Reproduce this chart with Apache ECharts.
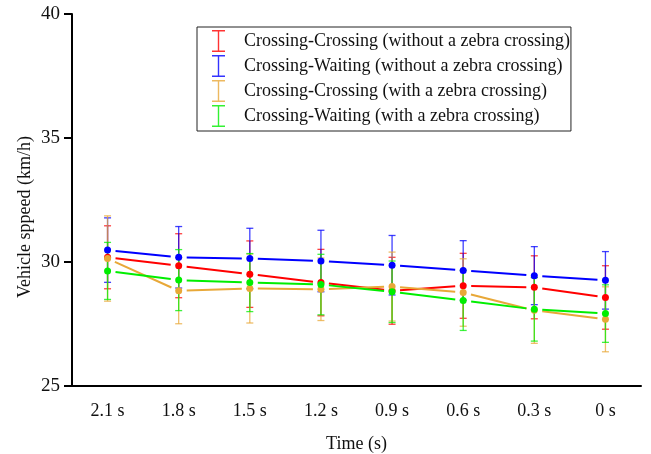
<!DOCTYPE html>
<html>
<head>
<meta charset="utf-8">
<script src="https://cdn.jsdelivr.net/npm/echarts@6/dist/echarts.min.js"></script>
<style>
  html, body { margin: 0; padding: 0; background: #fff; }
  #chart { width: 651px; height: 454px; }
</style>
</head>
<body>
<div id="chart"></div>
<script>
// Time before the vehicle reaches the crossing
const categories = ['2.1 s', '1.8 s', '1.5 s', '1.2 s', '0.9 s', '0.6 s', '0.3 s', '0 s'];
const yTicks = [25, 30, 35, 40];

// Mean vehicle speed (km/h) and standard deviation for each scenario
const ccNoZebra = [30.19, 29.85, 29.51, 29.17, 28.84, 29.04, 28.98, 28.57];
const ccNoZebraSd = [1.27, 1.29, 1.34, 1.34, 1.35, 1.31, 1.27, 1.28];
const cwNoZebra = [30.48, 30.19, 30.14, 30.04, 29.87, 29.66, 29.45, 29.26];
const cwNoZebraSd = [1.30, 1.24, 1.22, 1.24, 1.20, 1.20, 1.17, 1.16];
const ccZebra = [30.14, 28.84, 28.93, 28.90, 29.01, 28.77, 28.05, 27.69];
const ccZebraSd = [1.72, 1.33, 1.39, 1.26, 1.39, 1.36, 1.33, 1.31];
const cwZebra = [29.64, 29.27, 29.17, 29.09, 28.80, 28.45, 28.09, 27.92];
const cwZebraSd = [1.15, 1.23, 1.17, 1.22, 1.24, 1.21, 1.28, 1.16];

const groups = [
  { name: 'Crossing-Crossing (without a zebra crossing)', mean: ccNoZebra, sd: ccNoZebraSd, color: '#ff0000' },
  { name: 'Crossing-Waiting (without a zebra crossing)', mean: cwNoZebra, sd: cwNoZebraSd, color: '#0000ff' },
  { name: 'Crossing-Crossing (with a zebra crossing)', mean: ccZebra, sd: ccZebraSd, color: '#e8a838' },
  { name: 'Crossing-Waiting (with a zebra crossing)', mean: cwZebra, sd: cwZebraSd, color: '#00ee00' }
];

const FONT = 'Liberation Serif';
const SYMBOL_GAP = 8;   // px left open between a line and its markers
const CAP = 3.5;        // half width of the error bar caps

const errorBarIcon = 'path://M0,0H13V1.4H7.2V20.6H13V22H0V20.6H5.8V1.4H0Z';

function renderSegment(params, api) {
  const p0 = api.coord([api.value(0), api.value(1)]);
  const p1 = api.coord([api.value(2), api.value(3)]);
  const dx = p1[0] - p0[0], dy = p1[1] - p0[1];
  const len = Math.sqrt(dx * dx + dy * dy) || 1;
  const ux = dx / len, uy = dy / len;
  return {
    type: 'line',
    shape: {
      x1: p0[0] + ux * SYMBOL_GAP, y1: p0[1] + uy * SYMBOL_GAP,
      x2: p1[0] - ux * SYMBOL_GAP, y2: p1[1] - uy * SYMBOL_GAP
    },
    style: { stroke: api.visual('color'), lineWidth: 2 }
  };
}

function renderErrorBar(params, api) {
  const x = api.value(0);
  const top = api.coord([x, api.value(2)]);
  const bottom = api.coord([x, api.value(1)]);
  const style = { stroke: api.visual('color'), lineWidth: 1.3, opacity: 0.75 };
  return {
    type: 'group',
    children: [
      { type: 'line', shape: { x1: top[0], y1: top[1], x2: bottom[0], y2: bottom[1] }, style },
      { type: 'line', shape: { x1: top[0] - CAP, y1: top[1], x2: top[0] + CAP, y2: top[1] }, style },
      { type: 'line', shape: { x1: bottom[0] - CAP, y1: bottom[1], x2: bottom[0] + CAP, y2: bottom[1] }, style }
    ]
  };
}

const series = [];
groups.forEach(g => {
  const segments = g.mean.slice(0, -1).map((v, i) => [i, v, i + 1, g.mean[i + 1]]);
  series.push({
    name: g.name,
    type: 'custom',
    renderItem: renderSegment,
    itemStyle: { color: g.color },
    encode: { x: [0, 2], y: [1, 3] },
    data: segments,
    z: 2
  });
});
groups.forEach(g => {
  series.push({
    name: g.name,
    type: 'custom',
    renderItem: renderErrorBar,
    itemStyle: { color: g.color },
    encode: { x: 0, y: [1, 2] },
    data: g.mean.map((v, i) => [i, v - g.sd[i], v + g.sd[i]]),
    z: 3
  });
});
groups.forEach(g => {
  series.push({
    name: g.name,
    type: 'scatter',
    symbol: 'circle',
    symbolSize: 7,
    itemStyle: { color: g.color, opacity: 1 },
    data: g.mean.map((v, i) => [i, v]),
    z: 4
  });
});

const chart = echarts.init(document.getElementById('chart'), null, { renderer: 'canvas' });
chart.setOption({
  animation: false,
  backgroundColor: '#ffffff',
  textStyle: { fontFamily: FONT },
  grid: { left: 72, right: 10, top: 14, bottom: 68, containLabel: false, outerBoundsMode: 'none' },
  legend: {
    orient: 'vertical',
    left: 197,
    top: 27,
    padding: [3, 1, 4, 15],
    itemWidth: 13,
    itemHeight: 22,
    itemGap: 3,
    borderColor: '#222',
    borderWidth: 1,
    borderRadius: 0,
    selectedMode: false,
    textStyle: { fontFamily: FONT, fontSize: 18, color: '#111', padding: [0, 0, 0, 14] },
    data: groups.map(g => ({ name: g.name, icon: errorBarIcon, itemStyle: { color: g.color, opacity: 0.8 } }))
  },
  xAxis: {
    type: 'category',
    data: categories,
    boundaryGap: true,
    name: 'Time (s)',
    nameLocation: 'middle',
    nameGap: 49,
    nameMoveOverlap: false,
    nameTextStyle: { fontFamily: FONT, fontSize: 18, color: '#111' },
    axisLine: { lineStyle: { color: '#000', width: 2 } },
    axisTick: { alignWithLabel: true, length: 8, lineStyle: { width: 2, color: '#000' } },
    axisLabel: { margin: 16, fontFamily: FONT, fontSize: 18, color: '#111' },
    splitLine: { show: false }
  },
  yAxis: {
    type: 'value',
    min: yTicks[0],
    max: yTicks[yTicks.length - 1],
    interval: yTicks[1] - yTicks[0],
    name: 'Vehicle sppeed (km/h)',
    nameLocation: 'middle',
    nameGap: 38,
    nameRotate: 90,
    nameMoveOverlap: false,
    nameTextStyle: { fontFamily: FONT, fontSize: 18, color: '#111', padding: [0, 34, 0, 0] },
    axisLine: { show: true, lineStyle: { color: '#000', width: 2 } },
    axisTick: { show: true, length: 8, lineStyle: { width: 2, color: '#000' } },
    axisLabel: { margin: 12, fontFamily: FONT, fontSize: 19, color: '#111' },
    splitLine: { show: false }
  },
  series
});
</script>
</body>
</html>
